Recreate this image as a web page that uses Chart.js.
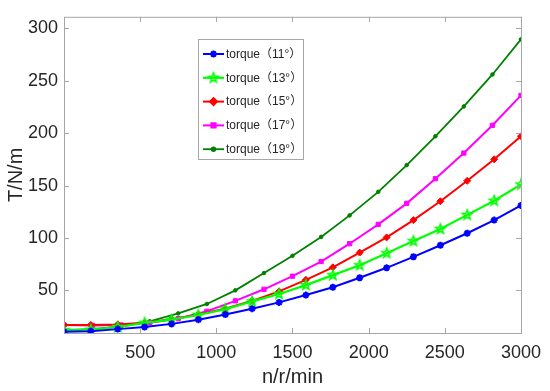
<!DOCTYPE html>
<html>
<head>
<meta charset="utf-8">
<script src="https://cdn.jsdelivr.net/npm/chart.js@4.4.0/dist/chart.umd.min.js"></script>
<style>
  html, body { margin: 0; padding: 0; background: #fff; }
  canvas { display: block; }
</style>
</head>
<body>
<canvas id="chart" width="550" height="391"></canvas>
<script>
// speed points (r/min)
const speed18 = [0, 176, 353, 529, 706, 882, 1059, 1235, 1412, 1588, 1765, 1941, 2118, 2294, 2471, 2647, 2824, 3000];
const speed17 = [0, 188, 375, 563, 750, 938, 1125, 1313, 1500, 1688, 1875, 2063, 2250, 2438, 2625, 2813, 3000];

// torque values
const torque11 = [10.5, 11, 13, 15, 18, 22, 27, 32.5, 38.5, 45.5, 53, 62, 71.5, 82, 93, 104.5, 117, 131];
const torque13 = [12, 12.5, 15, 19, 22, 26.5, 32, 39.5, 46.5, 55, 64.5, 74, 85.5, 97, 108.5, 122, 135.5, 151];
const torque15 = [17, 17, 17.5, 19, 22.5, 27, 32.5, 40, 49, 60, 72, 86, 100.5, 117, 135, 154.5, 175, 197];
const torque17 = [17, 16.5, 17, 19, 23, 30, 40, 51, 63.5, 77.5, 94.5, 113, 133, 156.5, 181, 207.5, 236];
const torque19 = [12, 13, 15.5, 20.5, 28, 37, 50, 66.5, 83, 101, 121.5, 144, 169.5, 197, 225.5, 256, 289.5];

const labels = ['torque（11°）', 'torque（13°）', 'torque（15°）', 'torque（17°）', 'torque（19°）'];
const xTicks = [500, 1000, 1500, 2000, 2500, 3000];
const yTicks = [50, 100, 150, 200, 250, 300];

const FONT = "'Liberation Sans', Arial, 'Noto Sans CJK SC', sans-serif";
const TXT = '#262626';
const AXIS = '#a6a6a6';

// pentagram marker (matlab 'p')
function pentagram(r, color) {
  const c = document.createElement('canvas');
  c.width = c.height = 2 * r + 4;
  const g = c.getContext('2d');
  const m = r + 2;
  g.beginPath();
  for (let k = 0; k < 10; k++) {
    const rad = k % 2 ? r * 0.42 : r;
    const a = -Math.PI / 2 + k * Math.PI / 5;
    g.lineTo(m + rad * Math.cos(a), m + rad * Math.sin(a));
  }
  g.closePath();
  g.strokeStyle = color;
  g.lineWidth = 1.6;
  g.stroke();
  return c;
}

const pts = (xs, ys) => xs.map((x, i) => ({ x: x, y: ys[i] }));

function series(label, xs, ys, color, style, radius, width) {
  return {
    label: label,
    data: pts(xs, ys),
    borderColor: color,
    backgroundColor: color,
    pointBackgroundColor: color,
    pointBorderColor: color,
    borderWidth: width,
    pointStyle: style,
    pointRadius: radius,
    pointBorderWidth: style === 'star' ? 2 : 1,
    tension: 0
  };
}

const datasets = [
  series(labels[0], speed18, torque11, '#0000ff', 'star', 3.5, 2),
  series(labels[1], speed18, torque13, '#00ff00', pentagram(5, '#00ff00'), 5, 2.2),
  series(labels[2], speed18, torque15, '#ff0000', 'rectRot', 3.5, 2),
  series(labels[3], speed17, torque17, '#ff00ff', 'rect', 3, 2),
  series(labels[4], speed17, torque19, '#008000', 'circle', 1.8, 1.8)
];

// box round the plot with inward tick marks on all four sides
const boxPlugin = {
  id: 'box',
  afterDatasetsDraw(chart) {
    const { ctx, chartArea: a, scales } = chart;
    ctx.save();
    ctx.strokeStyle = AXIS;
    ctx.lineWidth = 1;
    ctx.strokeRect(a.left + 0.5, a.top + 0.5, a.right - a.left, a.bottom - a.top);
    ctx.beginPath();
    const L = 5;
    xTicks.forEach(v => {
      const px = Math.round(scales.x.getPixelForValue(v)) + 0.5;
      ctx.moveTo(px, a.bottom); ctx.lineTo(px, a.bottom - L);
      ctx.moveTo(px, a.top); ctx.lineTo(px, a.top + L);
    });
    yTicks.forEach(v => {
      const py = Math.round(scales.y.getPixelForValue(v)) + 0.5;
      ctx.moveTo(a.left, py); ctx.lineTo(a.left + L, py);
      ctx.moveTo(a.right, py); ctx.lineTo(a.right - L, py);
    });
    ctx.stroke();
    ctx.restore();
  }
};

// legend box inside the axes
const legendPlugin = {
  id: 'boxLegend',
  afterDraw(chart) {
    const ctx = chart.ctx;
    const x0 = 198, y0 = 39, w = 105, h = 120;
    ctx.save();
    ctx.fillStyle = '#fff';
    ctx.fillRect(x0, y0, w, h);
    ctx.strokeStyle = AXIS;
    ctx.lineWidth = 1;
    ctx.strokeRect(x0 + 0.5, y0 + 0.5, w, h);
    chart.data.datasets.forEach((ds, i) => {
      const y = 54 + i * 23.8;
      ctx.strokeStyle = ds.borderColor;
      ctx.lineWidth = ds.borderWidth;
      ctx.beginPath();
      ctx.moveTo(203, y); ctx.lineTo(224, y);
      ctx.stroke();
      ctx.fillStyle = ds.borderColor;
      Chart.helpers.drawPoint(ctx, {
        pointStyle: ds.pointStyle, radius: ds.pointRadius,
        rotation: 0, borderWidth: ds.pointBorderWidth
      }, 213.5, y);
      ctx.fillStyle = TXT;
      ctx.font = "12px " + FONT;
      ctx.textBaseline = 'middle';
      ctx.fillText(ds.label, 226, y + 0.5);
    });
    ctx.restore();
  }
};

new Chart(document.getElementById('chart'), {
  type: 'line',
  data: { datasets: datasets },
  options: {
    responsive: false,
    animation: false,
    devicePixelRatio: 1,
    layout: { padding: { top: 7, right: 26, left: 0, bottom: 0 } },
    plugins: {
      legend: { display: false },
      tooltip: { enabled: false }
    },
    scales: {
      x: {
        type: 'linear',
        min: 0,
        max: 3000,
        afterBuildTicks: s => { s.ticks = xTicks.map(v => ({ value: v })); },
        afterFit: s => { s.height = 58; },
        grid: { display: false, drawTicks: false, tickLength: 0 },
        border: { display: false },
        ticks: {
          color: TXT, font: { family: FONT, size: 18 }, padding: 9, maxRotation: 0,
          callback: v => String(v)
        },
        title: {
          display: true, text: 'n/r/min', color: TXT,
          font: { family: FONT, size: 20 }, padding: { top: 0, bottom: 2 }
        }
      },
      y: {
        type: 'linear',
        min: 9.3,
        max: 311,
        afterBuildTicks: s => { s.ticks = yTicks.map(v => ({ value: v })); },
        afterFit: s => { s.width = 64; },
        grid: { display: false, drawTicks: false, tickLength: 0 },
        border: { display: false },
        ticks: {
          color: TXT, font: { family: FONT, size: 18 }, padding: 6,
          callback: v => String(v)
        },
        title: {
          display: true, text: 'T/N/m', color: TXT,
          font: { family: FONT, size: 20 }, padding: { top: 4, bottom: 0 }
        }
      }
    }
  },
  plugins: [boxPlugin, legendPlugin]
});
</script>
</body>
</html>
